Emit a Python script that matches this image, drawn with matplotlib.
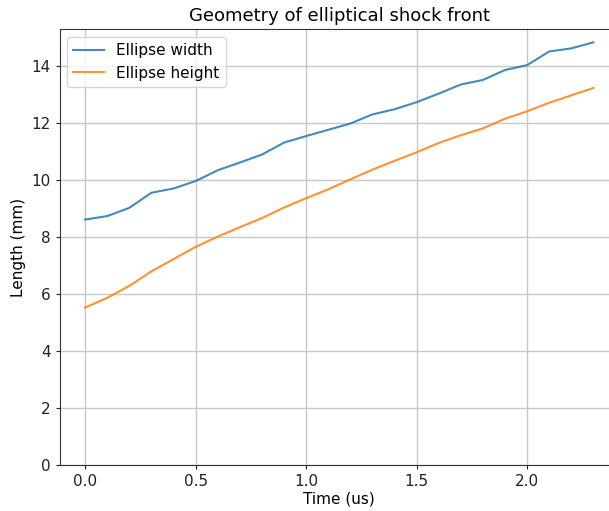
import numpy as np
import matplotlib.pyplot as plt

# time steps (us) and measured ellipse dimensions (mm)
time_us = [0.0, 0.1, 0.2, 0.3, 0.4, 0.5, 0.6, 0.7, 0.8, 0.9, 1.0, 1.1,
           1.2, 1.3, 1.4, 1.5, 1.6, 1.7, 1.8, 1.9, 2.0, 2.1, 2.2, 2.3]
width_mm = [8.62, 8.74, 9.03, 9.56, 9.71, 9.97, 10.35, 10.62, 10.90, 11.32, 11.55, 11.77,
            11.99, 12.31, 12.49, 12.74, 13.04, 13.36, 13.52, 13.87, 14.04, 14.52, 14.63, 14.84]
height_mm = [5.53, 5.87, 6.29, 6.80, 7.23, 7.66, 8.02, 8.35, 8.67, 9.04, 9.37, 9.68,
             10.03, 10.37, 10.68, 10.98, 11.31, 11.58, 11.82, 12.16, 12.42, 12.72, 12.98, 13.24]

fig = plt.figure(figsize=(6.09, 5.11), dpi=100)
ax = fig.add_axes([0.098, 0.090, 0.918, 0.853])

ax.plot(time_us, width_mm, color='tab:blue', lw=1.5, alpha=0.85, label='Ellipse width')
ax.plot(time_us, height_mm, color='tab:orange', lw=1.5, alpha=0.85, label='Ellipse height')
ax.set_ylim(bottom=0)

ax.grid(True, color='#c8c8c8', lw=1.0)
ax.set_axisbelow(True)
for s in ax.spines.values():
    s.set_color('#333333')
ax.tick_params(labelsize=11, length=3, colors='#222222')
ax.set_xlabel('Time (us)', fontsize=11, labelpad=2)
ax.set_ylabel('Length (mm)', fontsize=11)
ax.set_title('Geometry of elliptical shock front', fontsize=13)
ax.legend(loc='upper left', fontsize=11)

fig.savefig('out.png', dpi=100)
